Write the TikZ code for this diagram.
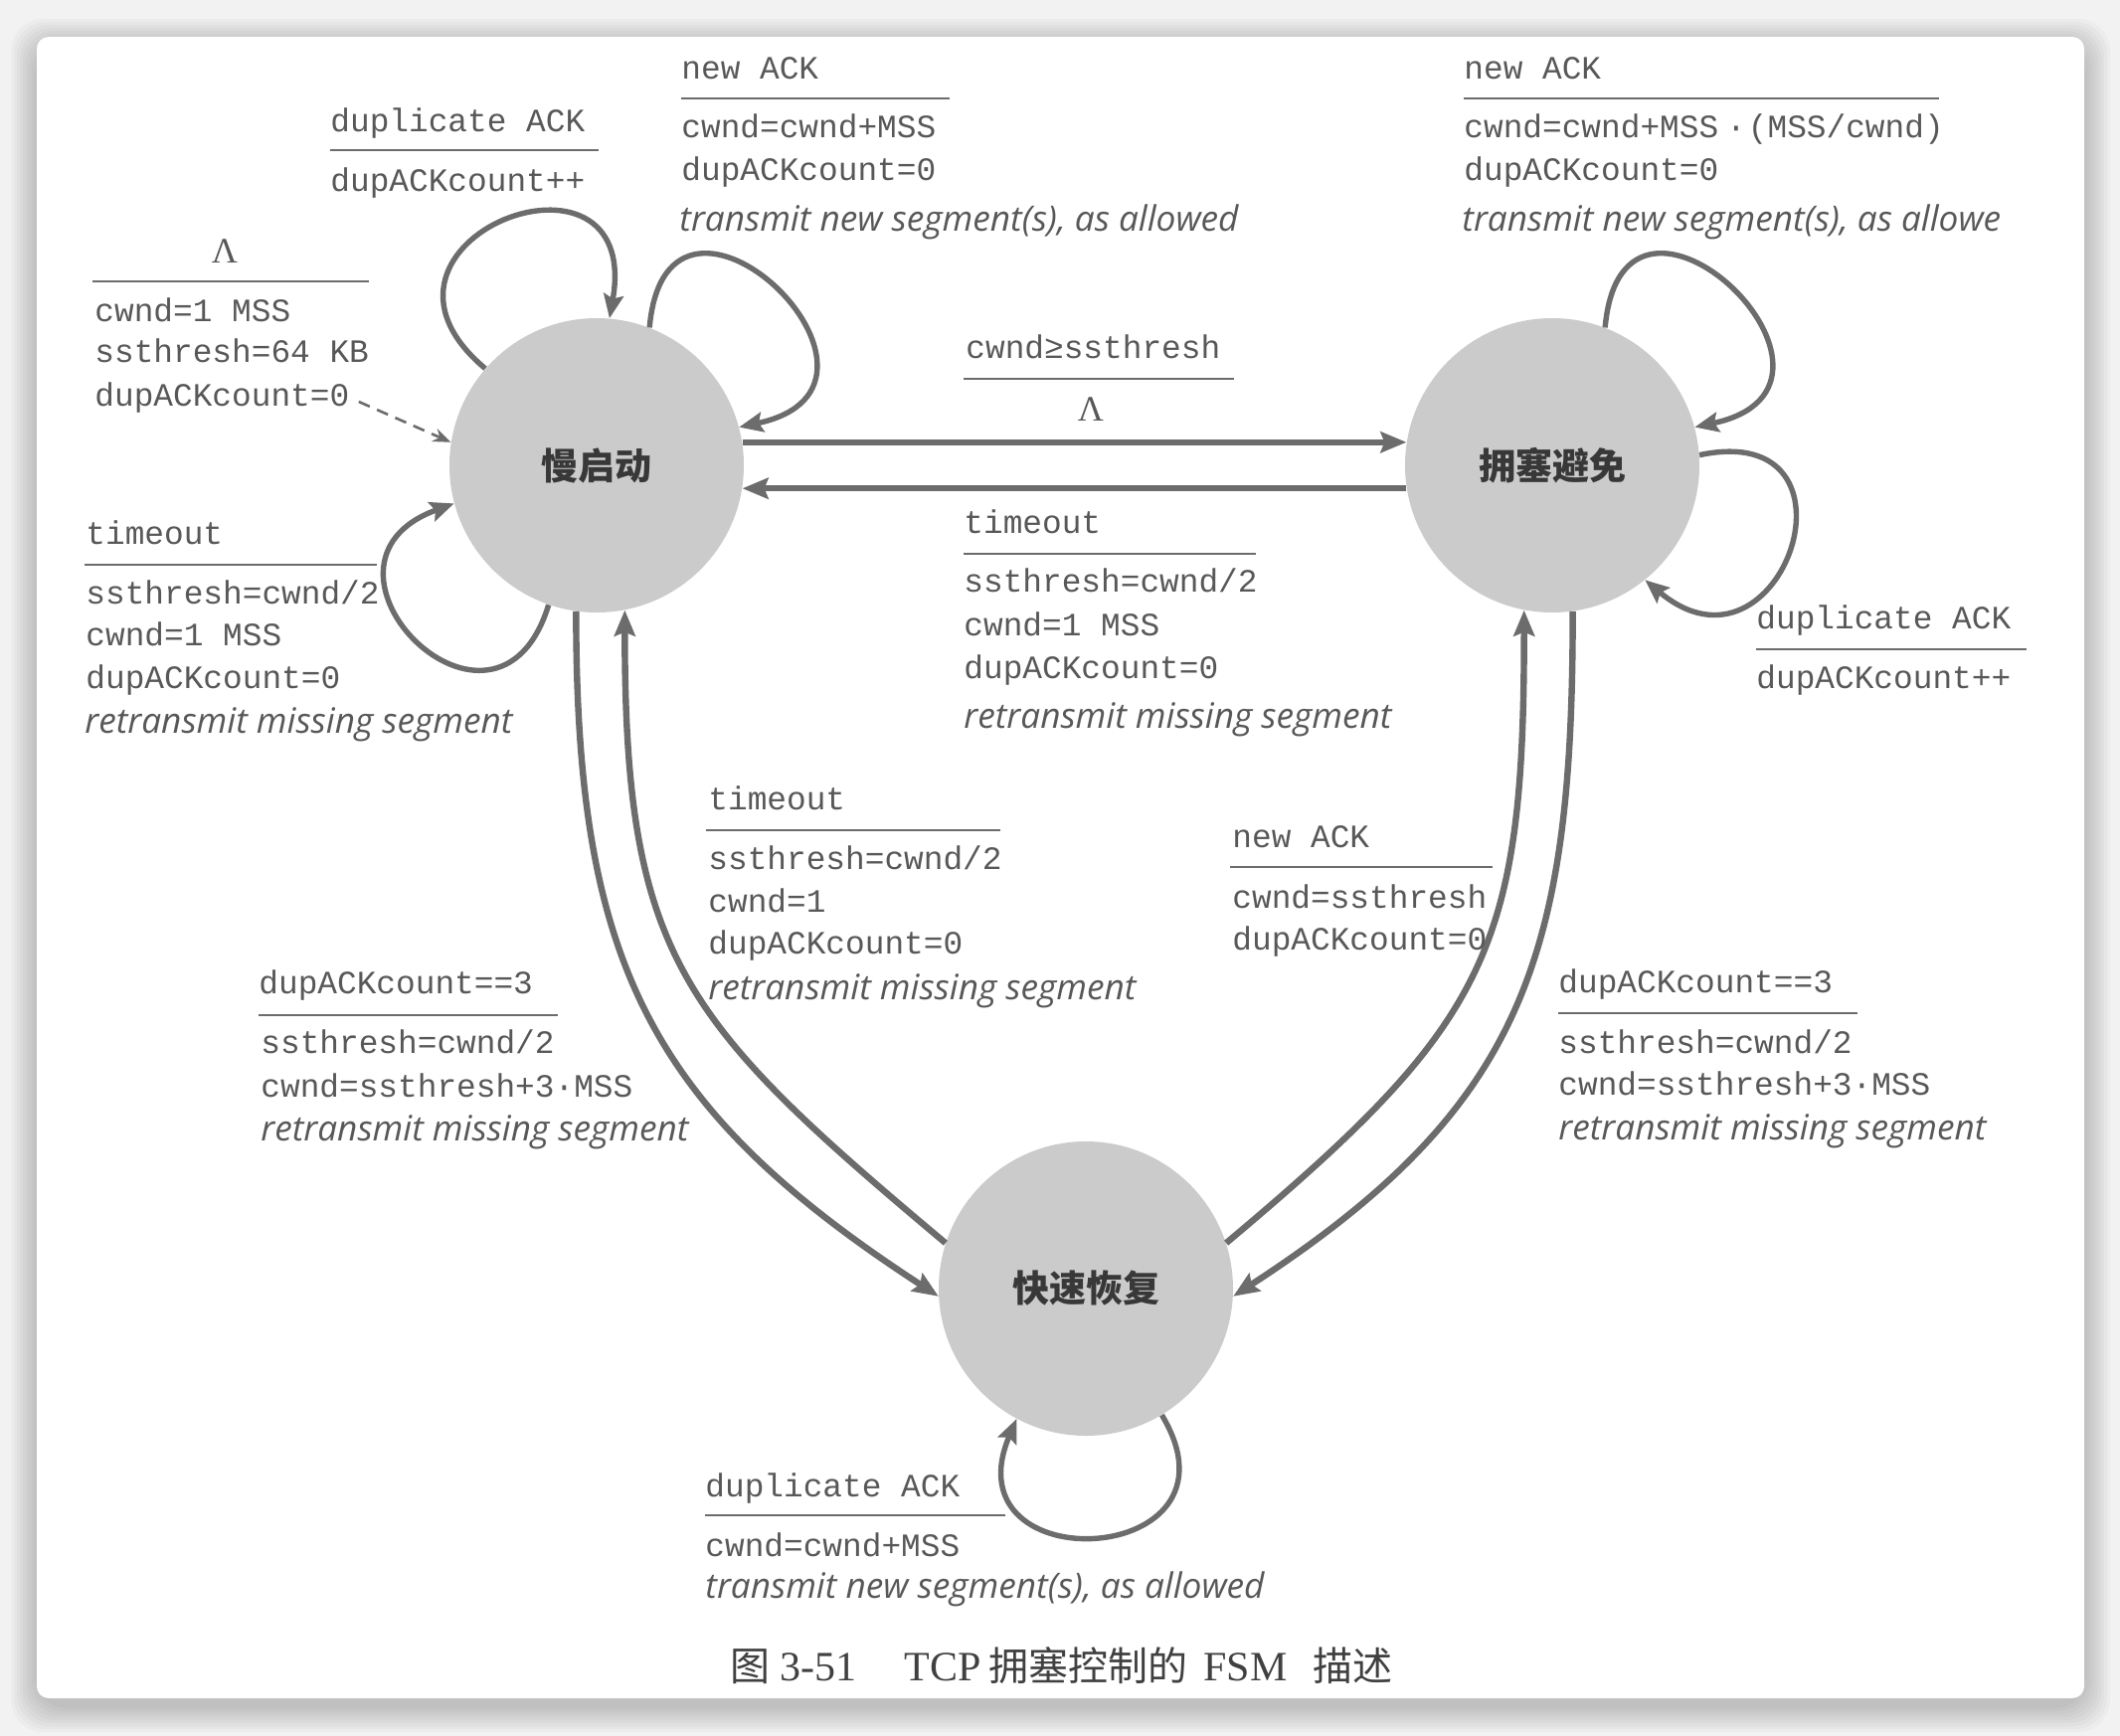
\documentclass[tikz,border=0pt]{standalone}
\usepackage{fontspec}
\usetikzlibrary{arrows.meta}
\setmainfont{Liberation Serif}
\setmonofont{Liberation Mono}
\newfontfamily\itfont{Open Sans}
\newfontfamily\cjkfont{Noto Sans CJK SC}
\definecolor{txtgray}{HTML}{585858}
\definecolor{linegray}{HTML}{6C6C6C}
\definecolor{stategray}{HTML}{CBCBCB}
\tikzset{
  state/.style={circle, fill=stategray, minimum size=148pt, inner sep=0pt,
    text=black!78, font=\cjkfont\bfseries\fontsize{18.5}{20}\selectfont},
  tr/.style={draw=linegray, line width=3.2pt, -{Stealth[length=13pt,width=10.5pt,inset=2pt]}},
  lp/.style={draw=linegray, line width=2.7pt, -{Stealth[length=12pt,width=10pt,inset=2pt]}},
  rule/.style={draw=linegray, line width=1.3pt},
  mono/.style={anchor=west, inner sep=0pt, text=txtgray, text height=11pt, text depth=3pt,
    font=\ttfamily\fontsize{16.4}{20}\selectfont},
  ital/.style={anchor=west, inner sep=0pt, text=txtgray, text height=13pt, text depth=3pt,
    font=\itfont\itshape\fontsize{17.6}{20}\selectfont},
  lam/.style={inner sep=0pt, text=txtgray, font=\fontsize{18}{20}\selectfont},
}
\begin{document}
\begin{tikzpicture}[x=0.5pt,y=-0.5pt]
\useasboundingbox (0,0) rectangle (2132,1746);

%Shape: page and card
\fill [black!5] (0,0) rectangle (2132,1746);
\foreach \s in {26,23,...,2}
  \fill [black, opacity=0.022, rounded corners=16pt] (37-\s,37-\s+8) rectangle (2096+\s,1708+\s+8);
\fill [white, rounded corners=6pt] (37,37) rectangle (2096,1708);

%Shape: Circle [states]
\node [state] (ss) at (600,468) {慢启动};
\node [state] (ca) at (1561,468) {拥塞避免};
\node [state] (fr) at (1092,1296) {快速恢复};

%Straight Lines [ss -- ca]
\draw [tr] (ss.9) -- (ca.171);
\draw [tr] (ca.189) -- (ss.-9);

%Curve Lines [to fast recovery and back]
\draw [tr] (ss.-98) to[out=-90,in=147,looseness=1.15] (fr.183);
\draw [tr] (fr.162) to[out=140,in=-90,looseness=1.25] (ss.-79);
\draw [tr] (ca.-82) to[out=-90,in=33,looseness=1.16] (fr.-3);
\draw [tr] (fr.18) to[out=40,in=-90,looseness=1.25] (ca.-101);

%Curve Lines [self loops]
\draw [lp] (ss.139) to[out=140,in=80,distance=100pt] (ss.85);
\draw [lp] (ss.69) to[out=85,in=12,distance=100pt] (ss.15);
\draw [lp] (ss.-109) to[out=-107,in=200,distance=90pt] (ss.195);
\draw [lp] (ca.69) to[out=85,in=12,distance=100pt] (ca.15);
\draw [lp] (ca.4) to[out=12,in=-40,distance=90pt] (ca.-51);
\draw [lp] (fr.-59) to[out=-59,in=247,distance=90pt] (fr.-118);

% Text Node [slow start, duplicate ACK]
\node [mono] (l1e) at (332,124) {duplicate ACK};
\draw [rule] (332,151) -- (602,151);
\node [mono] (l1a) at (332,184) {dupACKcount++};

% Text Node [slow start, new ACK]
\node [mono] (l2e) at (685,71) {new ACK};
\draw [rule] (685,99) -- (955,99);
\node [mono] (l2a1) at (685,130) {cwnd=cwnd+MSS};
\node [mono] (l2a2) at (685,173) {dupACKcount=0};
\node [ital] (l2a3) at (683,222) {transmit new segment(s), as allowed};

% Text Node [initial]
\node [lam] (l3e) at (226,253) {Λ};
\draw [rule] (93,283) -- (371,283);
\node [mono] (l3a1) at (95,315) {cwnd=1 MSS};
\node [mono] (l3a2) at (95,356) {ssthresh=64 KB};
\node [mono] (l3a3) at (95,400) {dupACKcount=0};
\draw [draw=linegray, line width=1.3pt, dash pattern=on 6pt off 4pt, shorten <=5pt,
  -{Stealth[length=9pt,width=7pt]}] (l3a3.east) -- (ss.171);

% Text Node [slow start, timeout]
\node [mono] (l4e) at (86,539) {timeout};
\draw [rule] (85,568) -- (379,568);
\node [mono] (l4a1) at (86,599) {ssthresh=cwnd/2};
\node [mono] (l4a2) at (86,641) {cwnd=1 MSS};
\node [mono] (l4a3) at (86,684) {dupACKcount=0};
\node [ital] (l4a4) at (85,727) {retransmit missing segment};

% Text Node [slow start to avoidance]
\node [mono] (l5e) at (971,352) {cwnd≥ssthresh};
\draw [rule] (969,381) -- (1241,381);
\node [lam] (l5a) at (1097,412) {Λ};

% Text Node [avoidance, timeout]
\node [mono] (l6e) at (969,528) {timeout};
\draw [rule] (969,557) -- (1263,557);
\node [mono] (l6a1) at (969,587) {ssthresh=cwnd/2};
\node [mono] (l6a2) at (969,631) {cwnd=1 MSS};
\node [mono] (l6a3) at (969,674) {dupACKcount=0};
\node [ital] (l6a4) at (969,722) {retransmit missing segment};

% Text Node [avoidance, new ACK]
\node [mono] (l7e) at (1472,71) {new ACK};
\draw [rule] (1472,99) -- (1950,99);
\node [mono] (l7a1) at (1472,130) {cwnd=cwnd+MSS\hspace{4pt}·\hspace{1pt}(MSS/cwnd)};
\node [mono] (l7a2) at (1472,173) {dupACKcount=0};
\node [ital] (l7a3) at (1470,222) {transmit new segment(s), as allowe};

% Text Node [avoidance, duplicate ACK]
\node [mono] (l8e) at (1766,624) {duplicate ACK};
\draw [rule] (1766,653) -- (2038,653);
\node [mono] (l8a) at (1766,684) {dupACKcount++};

% Text Node [fast recovery, timeout]
\node [mono] (l9e) at (712,806) {timeout};
\draw [rule] (710,835) -- (1006,835);
\node [mono] (l9a1) at (712,866) {ssthresh=cwnd/2};
\node [mono] (l9a2) at (712,909) {cwnd=1};
\node [mono] (l9a3) at (712,951) {dupACKcount=0};
\node [ital] (l9a4) at (712,995) {retransmit missing segment};

% Text Node [fast recovery, new ACK]
\node [mono] (l10e) at (1239,844) {new ACK};
\draw [rule] (1237,872) -- (1501,872);
\node [mono] (l10a1) at (1239,905) {cwnd=ssthresh};
\node [mono] (l10a2) at (1239,947) {dupACKcount=0};

% Text Node [slow start, dupACKcount==3]
\node [mono] (l11e) at (260,991) {dupACKcount==3};
\draw [rule] (260,1021) -- (561,1021);
\node [mono] (l11a1) at (262,1051) {ssthresh=cwnd/2};
\node [mono] (l11a2) at (262,1095) {cwnd=ssthresh+3·MSS};
\node [ital] (l11a3) at (262,1137) {retransmit missing segment};

% Text Node [avoidance, dupACKcount==3]
\node [mono] (l12e) at (1567,990) {dupACKcount==3};
\draw [rule] (1567,1019) -- (1868,1019);
\node [mono] (l12a1) at (1567,1051) {ssthresh=cwnd/2};
\node [mono] (l12a2) at (1567,1093) {cwnd=ssthresh+3·MSS};
\node [ital] (l12a3) at (1567,1136) {retransmit missing segment};

% Text Node [fast recovery, duplicate ACK]
\node [mono] (l13e) at (709,1497) {duplicate ACK};
\draw [rule] (709,1524) -- (1011,1524);
\node [mono] (l13a1) at (709,1557) {cwnd=cwnd+MSS};
\node [ital] (l13a2) at (709,1597) {transmit new segment(s), as allowed};

% Text Node [caption]
\node [anchor=west, inner sep=0pt, text=black!75, font=\fontsize{21}{24}\selectfont] (cap) at (734,1675)
  {{\cjkfont\fontsize{20}{24}\selectfont 图}\hspace{5pt}3-51\hspace{24pt}TCP\hspace{4pt}{\cjkfont\fontsize{20}{24}\selectfont 拥塞控制的}\hspace{8pt}FSM\hspace{13pt}{\cjkfont\fontsize{20}{24}\selectfont 描述}};

\end{tikzpicture}
\end{document}
